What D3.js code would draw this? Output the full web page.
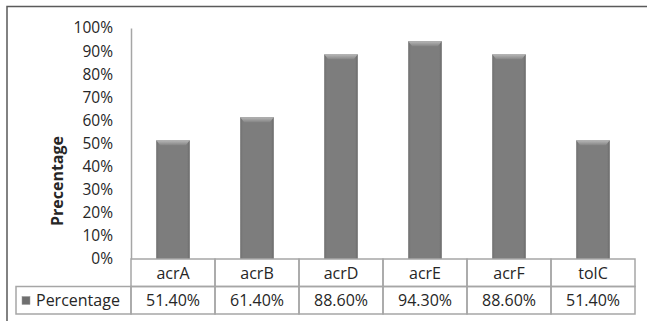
<head>
    <script src="https://d3js.org/d3.v7.min.js"></script>
    <style>
        body { margin: 0; background: #fff; }
        text { font-family: "Open Sans", "Liberation Sans", sans-serif; fill: #262626; }
    </style>
</head>
<body>
    <script>
        const categories = ['acrA', 'acrB', 'acrD', 'acrE', 'acrF', 'tolC']
        const values = [51.4, 61.4, 88.6, 94.3, 88.6, 51.4]
        const yTicks = [0, 10, 20, 30, 40, 50, 60, 70, 80, 90, 100]
        const seriesName = 'Percentage'
        const yTitle = 'Precentage'

        const width = 647
        const height = 321
        const plotLeft = 131, plotRight = 635
        const plotTop = 28, plotBottom = 259
        const rowH = 27.5

        const svg = d3.select('body').append('svg').attr('width', width).attr('height', height)

        // chart border
        svg.append('rect').attr('x', 7).attr('y', 6.5).attr('width', 660).attr('height', 330)
            .style('fill', 'none').style('stroke', '#5a5a5a').style('stroke-width', 1.5)

        const x = d3.scaleBand().domain(categories).range([plotLeft, plotRight])
        const xBar = d3.scaleBand().domain(categories).range([plotLeft, plotRight]).paddingInner(0.6).paddingOuter(0.3)
        const y = d3.scaleLinear().domain([0, 100]).range([plotBottom, plotTop])

        // bar gradients
        const defs = svg.append('defs')
        const g1 = defs.append('linearGradient').attr('id', 'barGrad').attr('x1', 0).attr('x2', 1).attr('y1', 0).attr('y2', 0)
        g1.append('stop').attr('offset', '0%').attr('stop-color', '#6f6f6f')
        g1.append('stop').attr('offset', '8%').attr('stop-color', '#7d7d7d')
        g1.append('stop').attr('offset', '92%').attr('stop-color', '#7d7d7d')
        g1.append('stop').attr('offset', '100%').attr('stop-color', '#6a6a6a')
        const g2 = defs.append('linearGradient').attr('id', 'bevel').attr('x1', 0).attr('x2', 0).attr('y1', 0).attr('y2', 1)
        g2.append('stop').attr('offset', '0%').attr('stop-color', '#b8b8b8')
        g2.append('stop').attr('offset', '100%').attr('stop-color', '#858585')

        const bars = svg.append('g').selectAll('g').data(values).join('g')
        bars.append('rect')
            .attr('x', (d, i) => xBar(categories[i]))
            .attr('y', d => y(d))
            .attr('width', xBar.bandwidth())
            .attr('height', d => y(0) - y(d))
            .style('fill', 'url(#barGrad)')
        bars.append('path')
            .attr('d', (d, i) => {
                const x0 = xBar(categories[i]), x1 = x0 + xBar.bandwidth(), t = y(d)
                return `M${x0},${t}L${x1},${t}L${x1 - 4},${t + 5}L${x0 + 4},${t + 5}Z`
            })
            .style('fill', 'url(#bevel)')

        // y axis
        const axisY = d3.axisLeft(y).tickValues(yTicks).tickFormat(d => d + '%').tickSize(0).tickPadding(18)
        const gy = svg.append('g').attr('transform', 'translate(' + plotLeft + ',0)').call(axisY)
        gy.select('.domain').style('stroke', '#a6a6a6').style('stroke-width', 1.5)
        gy.selectAll('text').style('font-size', '15.5px').style('font-family', '"Open Sans", sans-serif').style('fill', '#262626')

        svg.append('text')
            .attr('transform', 'translate(63,181) rotate(-90)')
            .attr('text-anchor', 'middle')
            .style('font-size', '16px').style('font-weight', 'bold')
            .text(yTitle)

        // data table
        const table = svg.append('g').style('stroke', '#a6a6a6').style('stroke-width', 1.5).style('fill', 'none')
        const r1 = plotBottom, r2 = plotBottom + rowH, r3 = plotBottom + 2 * rowH
        categories.forEach((c, i) => {
            table.append('rect').attr('x', x(c)).attr('y', r1).attr('width', x.bandwidth()).attr('height', rowH)
            table.append('rect').attr('x', x(c)).attr('y', r2).attr('width', x.bandwidth()).attr('height', rowH)
        })
        table.append('rect').attr('x', 16).attr('y', r2).attr('width', plotLeft - 16).attr('height', rowH)

        svg.append('g').selectAll('text').data(categories).join('text')
            .attr('x', d => x(d) + x.bandwidth() / 2)
            .attr('y', r1 + rowH / 2 + 6)
            .attr('text-anchor', 'middle')
            .style('font-size', '16px')
            .text(d => d)

        svg.append('g').selectAll('text').data(values).join('text')
            .attr('x', (d, i) => x(categories[i]) + x.bandwidth() / 2)
            .attr('y', r2 + rowH / 2 + 6)
            .attr('text-anchor', 'middle')
            .style('font-size', '16px')
            .text(d => d.toFixed(2) + '%')

        svg.append('rect').attr('x', 22).attr('y', r2 + 10).attr('width', 8).attr('height', 8)
            .style('fill', '#6f6f6f').style('stroke', '#9a9a9a').style('stroke-width', 0.5)
        svg.append('text').attr('x', 36).attr('y', r2 + rowH / 2 + 6)
            .style('font-size', '16px')
            .text(seriesName)
    </script>
</body>
